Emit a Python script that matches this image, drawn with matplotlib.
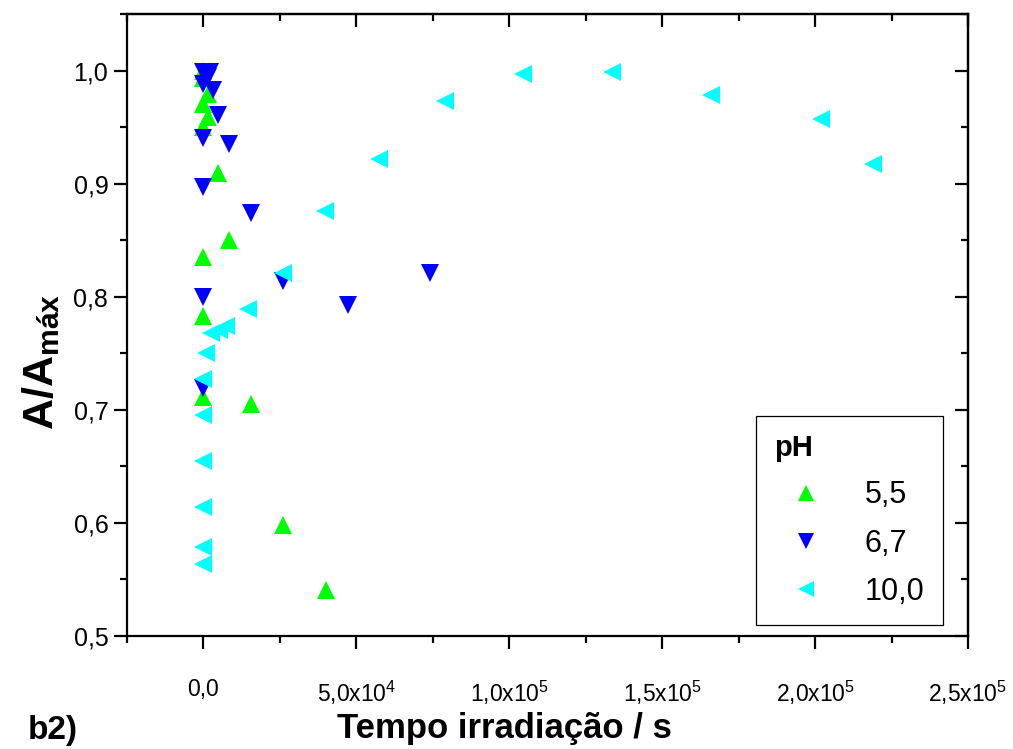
import matplotlib
matplotlib.use("Agg")
import matplotlib.pyplot as plt
from matplotlib.ticker import MultipleLocator, FixedLocator, FixedFormatter

plt.rcParams['font.family'] = ['Liberation Sans', 'DejaVu Sans']
plt.rcParams['mathtext.fontset'] = 'custom'
plt.rcParams['mathtext.rm'] = 'Liberation Sans'
plt.rcParams['mathtext.it'] = 'Liberation Sans'
plt.rcParams['mathtext.bf'] = 'Liberation Sans:bold'

# ---- data ----
ph55_t = [0, 0, 1.5e3, 0, 1.5e3, 0, 4.6e3, 8.2e3, 0, 0, 0, 1.54e4, 2.6e4, 4.0e4]
ph55_a = [1.000, 0.993, 0.979, 0.970, 0.959, 0.950, 0.909, 0.850, 0.835, 0.783, 0.711, 0.705, 0.598, 0.541]

ph67_t = [0, 2.0e3, 1.5e3, 0, 3.0e3, 4.6e3, 0, 8.2e3, 0, 1.54e4, 0, 2.6e4, 4.74e4, 7.42e4, 0]
ph67_a = [0.999, 0.999, 0.994, 0.988, 0.983, 0.961, 0.940, 0.935, 0.897, 0.874, 0.800, 0.814, 0.793, 0.821, 0.719]

ph100_t = [0, 0, 0, 0, 0, 0, 700, 2.5e3, 5.0e3, 7.5e3, 1.47e4, 2.6e4, 3.99e4, 5.75e4,
           7.91e4, 1.046e5, 1.336e5, 1.66e5, 2.02e5, 2.19e5]
ph100_a = [0.564, 0.579, 0.614, 0.655, 0.695, 0.727, 0.750, 0.768, 0.771, 0.774, 0.789, 0.821,
           0.876, 0.922, 0.973, 0.997, 0.999, 0.978, 0.957, 0.917]

series_labels = ['5,5', '6,7', '10,0']
x_ticks = [0, 5e4, 1e5, 1.5e5, 2e5, 2.5e5]
x_tick_labels = ['0,0', '5,0x10$^{4}$', '1,0x10$^{5}$', '1,5x10$^{5}$', '2,0x10$^{5}$', '2,5x10$^{5}$']
y_ticks = [0.5, 0.6, 0.7, 0.8, 0.9, 1.0]
y_tick_labels = ['0,5', '0,6', '0,7', '0,8', '0,9', '1,0']

fig = plt.figure(figsize=(10.13, 7.49), dpi=100)
ax = fig.add_axes([127/1013, 1 - 636/749, (968-127)/1013, (636-14)/749])

ms = 12.5
ax.plot(ph55_t, ph55_a, linestyle='none', marker='^', ms=ms, color='#00FF00', mew=0, label=series_labels[0])
ax.plot(ph67_t, ph67_a, linestyle='none', marker='v', ms=ms, color='#0000FF', mew=0, label=series_labels[1])
ax.plot(ph100_t, ph100_a, linestyle='none', marker='<', ms=ms, color='#00FFFF', mew=0, label=series_labels[2])

ax.set_xlim(-2.5e4, 2.5e5)
ax.set_ylim(0.5, 1.05)

ax.xaxis.set_major_locator(FixedLocator(x_ticks))
ax.xaxis.set_major_formatter(FixedFormatter(x_tick_labels))
ax.xaxis.set_minor_locator(MultipleLocator(2.5e4))
ax.yaxis.set_major_locator(FixedLocator(y_ticks))
ax.yaxis.set_major_formatter(FixedFormatter(y_tick_labels))
ax.yaxis.set_minor_locator(MultipleLocator(0.05))

for s in ax.spines.values():
    s.set_linewidth(1.6)

ax.tick_params(which='both', width=1.6)
ax.tick_params(which='major', length=9.5)
ax.tick_params(which='minor', length=5)
ax.tick_params(axis='x', which='both', direction='out', top=False)
ax.tick_params(axis='y', which='both', direction='out', right=False)
ax.tick_params(axis='x', labelsize=16.5, pad=21)
ax.tick_params(axis='y', labelsize=18, pad=4)

# inward ticks on top and right via secondary axes
axt = ax.secondary_xaxis('top')
axt.xaxis.set_major_locator(FixedLocator(x_ticks))
axt.xaxis.set_minor_locator(MultipleLocator(2.5e4))
axt.tick_params(which='both', direction='in', width=1.6, labeltop=False)
axt.tick_params(which='major', length=9.5)
axt.tick_params(which='minor', length=5)
axt.spines['top'].set_linewidth(1.6)
axr = ax.secondary_yaxis('right')
axr.yaxis.set_major_locator(FixedLocator(y_ticks))
axr.yaxis.set_minor_locator(MultipleLocator(0.05))
axr.tick_params(which='both', direction='in', width=1.6, labelright=False)
axr.tick_params(which='major', length=9.5)
axr.tick_params(which='minor', length=5)
axr.spines['right'].set_linewidth(1.6)

ax.set_xlabel('Tempo irradiação / s', fontsize=25, fontweight='bold')
ax.xaxis.set_label_coords((504 - 127) / 841, -0.122, transform=ax.transAxes)
ax.xaxis.label.set_va('top')
ax.set_ylabel(r'$\mathbf{A/A}_{\mathbf{máx}}$', fontsize=31)
ax.yaxis.set_label_coords(-0.077, (636 - 362) / 622, transform=ax.transAxes)
ax.yaxis.label.set_va('bottom')

fig.text(28/1013, 1 - 739/749, 'b2)', fontsize=24, fontweight='bold', ha='left', va='baseline')

leg = ax.legend(loc='upper left', bbox_to_anchor=(0.748, 0.354), borderaxespad=0, title='pH',
                fontsize=22, title_fontproperties={'weight': 'bold', 'size': 21},
                frameon=True, fancybox=False, framealpha=1, edgecolor='black',
                handlelength=2.1, handletextpad=0.85, labelspacing=0.6,
                borderpad=0.6, markerscale=0.9, alignment='left')
leg.get_frame().set_linewidth(0.9)

fig.savefig('out.png', dpi=100)
